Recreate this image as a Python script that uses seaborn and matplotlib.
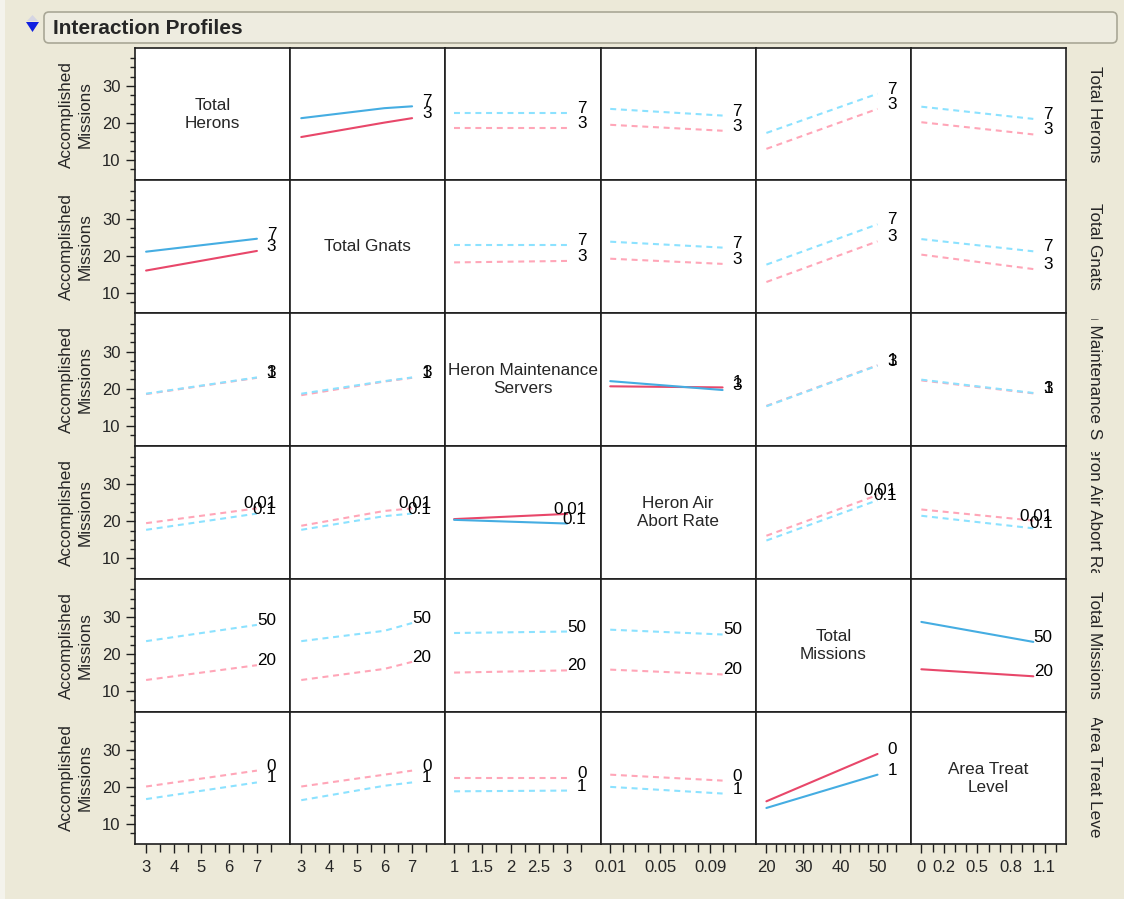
import numpy as np
import pandas as pd
import seaborn as sns
import matplotlib.pyplot as plt
from matplotlib.patches import FancyBboxPatch, Polygon, Rectangle
from matplotlib.ticker import FixedLocator, FixedFormatter
from matplotlib.transforms import Bbox, TransformedBbox

# factors of the profiler (rows and columns share the same order)
FACTORS = ["Total Herons", "Total Gnats", "Heron Maintenance Servers",
           "Heron Air Abort Rate", "Total Missions", "Area Treat Level"]
DIAG_LABELS = ["Total\nHerons", "Total Gnats", "Heron Maintenance\nServers",
               "Heron Air\nAbort Rate", "Total\nMissions", "Area Treat\nLevel"]
LEVELS = [("3", "7"), ("3", "7"), ("1", "3"), ("0.01", "0.1"), ("20", "50"), ("0", "1")]

# x positions where the profile values were read, per column factor
X_POINTS = [[3, 7], [3, 6, 7], [1, 3], [0.01, 0.1], [20, 50], [0, 1]]

# Accomplished Missions, one list per column (None on the diagonal)
HERONS_3 = [None, [16.2, 20.1, 21.3], [18.6, 18.6], [19.5, 17.9], [13.0, 23.8], [20.2, 16.9]]
HERONS_7 = [None, [21.3, 24.0, 24.5], [22.8, 22.8], [23.8, 22.0], [17.3, 27.9], [24.4, 21.1]]
GNATS_3 = [[16.0, 21.3], None, [18.2, 18.6], [19.2, 17.8], [12.9, 23.9], [20.3, 16.4]]
GNATS_7 = [[21.1, 24.6], None, [22.9, 22.9], [23.8, 22.2], [17.6, 28.5], [24.5, 21.2]]
SERVERS_1 = [[18.5, 22.9], [18.2, 21.9, 22.9], None, [20.6, 20.3], [15.3, 26.3], [22.2, 18.7]]
SERVERS_3 = [[18.6, 23.0], [18.6, 22.0, 23.0], None, [22.0, 19.6], [15.2, 26.2], [22.4, 18.8]]
ABORT_001 = [[19.5, 23.5], [18.8, 22.8, 23.5], [20.6, 22.0], None, [16.1, 27.1], [23.2, 20.2]]
ABORT_01 = [[17.7, 22.1], [17.7, 21.4, 22.1], [20.4, 19.4], None, [14.8, 25.7], [21.5, 18.1]]
MISSIONS_20 = [[13.0, 17.0], [13.0, 16.0, 17.9], [15.0, 15.6], [15.8, 14.5], None, [15.9, 14.0]]
MISSIONS_50 = [[23.5, 27.9], [23.5, 26.3, 28.4], [25.7, 26.1], [26.6, 25.3], None, [28.7, 23.3]]
AREA_0 = [[20.1, 24.4], [20.1, 23.3, 24.4], [22.4, 22.4], [23.3, 21.7], [16.1, 28.9], None]
AREA_1 = [[16.7, 21.2], [16.4, 20.3, 21.2], [18.8, 19.0], [20.0, 18.2], [14.3, 23.3], None]

LOW_VALUES = [HERONS_3, GNATS_3, SERVERS_1, ABORT_001, MISSIONS_20, AREA_0]
HIGH_VALUES = [HERONS_7, GNATS_7, SERVERS_3, ABORT_01, MISSIONS_50, AREA_1]

# interactions drawn with solid lines
SOLID_PAIRS = {(0, 1), (1, 0), (2, 3), (3, 2), (4, 5), (5, 4)}

X_TICKS = [[3, 4, 5, 6, 7], [3, 4, 5, 6, 7], [1, 1.5, 2, 2.5, 3],
           [0.01, 0.05, 0.09], [20, 30, 40, 50], [0, 0.2, 0.5, 0.8, 1.1]]
X_TICK_LABELS = [["3", "4", "5", "6", "7"], ["3", "4", "5", "6", "7"],
                 ["1", "1.5", "2", "2.5", "3"], ["0.01", "0.05", "0.09"],
                 ["20", "30", "40", "50"], ["0", "0.2", "0.5", "0.8", "1.1"]]
Y_TICKS = [10, 20, 30]

RED, BLUE = "#E8476A", "#45ADE2"
PINK, CYAN = "#FFA6B8", "#8CE2FF"
BG = "#ECE9D8"

W, H = 1124, 899

sns.set_style("ticks")
plt.rcParams["font.family"] = ["Liberation Sans", "DejaVu Sans"]
plt.rcParams["lines.scale_dashes"] = False
plt.rcParams["lines.dashed_pattern"] = [4.3, 3.4]

records = []
for i in range(6):
    for j in range(6):
        if i == j:
            continue
        for k, vals in enumerate((LOW_VALUES[i][j], HIGH_VALUES[i][j])):
            for x, y in zip(X_POINTS[j], vals):
                records.append({"row": i, "col": j, "level": LEVELS[i][k], "x": x, "y": y})
df = pd.DataFrame(records)

x_limits = [(2.6, 8.2), (2.6, 8.2), (0.845, 3.59), (0.0022, 0.1265), (17.1, 59.0), (-0.094, 1.292)]
x_minor = [np.arange(3, 7.6, 0.5), np.arange(3, 7.6, 0.5), np.arange(1, 3.3, 0.25),
           np.arange(0.01, 0.115, 0.01), np.arange(20, 55.1, 2.5), np.arange(0, 1.25, 0.1)]

fig, axes = plt.subplots(6, 6, figsize=(W / 100, H / 100), dpi=100, sharey=True)
fig.patch.set_facecolor(BG)
fig.subplots_adjust(left=135 / W, right=1066 / W, top=1 - 47.7 / H, bottom=1 - 844.4 / H,
                    wspace=0, hspace=0)

for i in range(6):
    for j in range(6):
        ax = axes[i, j]
        ax.set_facecolor("white")
        if i == j:
            ax.text(0.5, 0.5, DIAG_LABELS[i], transform=ax.transAxes, ha="center",
                    va="center", fontsize=12.3, clip_on=True, linespacing=1.25)
        else:
            sub = df[(df["row"] == i) & (df["col"] == j)]
            solid = (i, j) in SOLID_PAIRS
            sns.lineplot(data=sub, x="x", y="y", hue="level", hue_order=list(LEVELS[i]),
                         palette=[RED, BLUE] if solid else [PINK, CYAN], ax=ax,
                         legend=False, errorbar=None, linewidth=1.5,
                         linestyle="-" if solid else "--")
            for lvl in LEVELS[i]:
                end = sub[sub["level"] == lvl].iloc[-1]
                ax.annotate(lvl, (end["x"], end["y"]), xytext=(14, 0),
                            textcoords="offset points", ha="right", va="baseline",
                            fontsize=12.3, color="black")
        ax.set_xlabel("")
        ax.set_ylabel("")
        ax.set_xlim(*x_limits[j])
        ax.set_ylim(4.45, 40.35)
        ax.xaxis.set_major_locator(FixedLocator(X_TICKS[j]))
        ax.xaxis.set_major_formatter(FixedFormatter(X_TICK_LABELS[j]))
        ax.xaxis.set_minor_locator(FixedLocator(x_minor[j]))
        ax.yaxis.set_major_locator(FixedLocator(Y_TICKS))
        ax.yaxis.set_minor_locator(FixedLocator(np.arange(7.5, 38, 2.5)))
        for sp in ax.spines.values():
            sp.set_visible(True)
            sp.set_color("#1e1e1e")
            sp.set_linewidth(1.2)
        ax.tick_params(which="both", direction="out", color="#1e1e1e", width=1.0,
                       labelsize=12, pad=4, top=False, right=False)
        ax.tick_params(which="major", length=6.5)
        ax.tick_params(which="minor", length=3.6)
        ax.tick_params(axis="x", which="minor", length=5.5)
        ax.tick_params(axis="x", which="major", length=6.5, pad=5)
        if i < 5:
            ax.tick_params(axis="x", which="both", bottom=False, labelbottom=False)
        if j > 0:
            ax.tick_params(axis="y", which="both", left=False, labelleft=False)
        else:
            ax.tick_params(axis="y", labelleft=True)
            ax.text(-0.38, 0.5, "Accomplished\nMissions", transform=ax.transAxes,
                    rotation=90, ha="center", va="center", fontsize=12.3, linespacing=1.3)

# factor names down the right side, clipped to the row like the original
for i in range(6):
    ax = axes[i, 5]
    pos = ax.get_position()
    t = fig.text(1095 / W, (pos.y0 + pos.y1) / 2, FACTORS[i], rotation=270,
                 ha="center", va="center", fontsize=12.3)
    t.set_clip_box(TransformedBbox(Bbox.from_extents(1.0, 0.045, 1.5, 0.955), ax.transAxes))
    t.set_clip_on(True)

# outline header
fig.patches.append(Rectangle((0, 0), 5 / W, 1, transform=fig.transFigure,
                             facecolor="#F4F3EC", edgecolor="none", zorder=0))
fig.patches.append(FancyBboxPatch((44 / 100, (H - 43) / 100), 1073 / 100, 31 / 100,
                                  boxstyle="round,pad=0,rounding_size=0.05",
                                  transform=fig.dpi_scale_trans, facecolor="#EEECE0",
                                  edgecolor="#A9A796", linewidth=1.2))
fig.patches.append(Polygon([(27 / 100, (H - 21) / 100), (38 / 100, (H - 21) / 100),
                            (32.5 / 100, (H - 15) / 100)], closed=True,
                           transform=fig.dpi_scale_trans, facecolor="#D5D5E3",
                           edgecolor="none"))
fig.patches.append(Polygon([(26 / 100, (H - 22) / 100), (39 / 100, (H - 22) / 100),
                            (32.5 / 100, (H - 32) / 100)], closed=True,
                           transform=fig.dpi_scale_trans, facecolor="#1020E0",
                           edgecolor="none"))
fig.text(53 / W, 1 - 28 / H, "Interaction Profiles", fontsize=15, fontweight="bold",
         ha="left", va="center")

fig.savefig("out.png", dpi=100, facecolor=BG)
